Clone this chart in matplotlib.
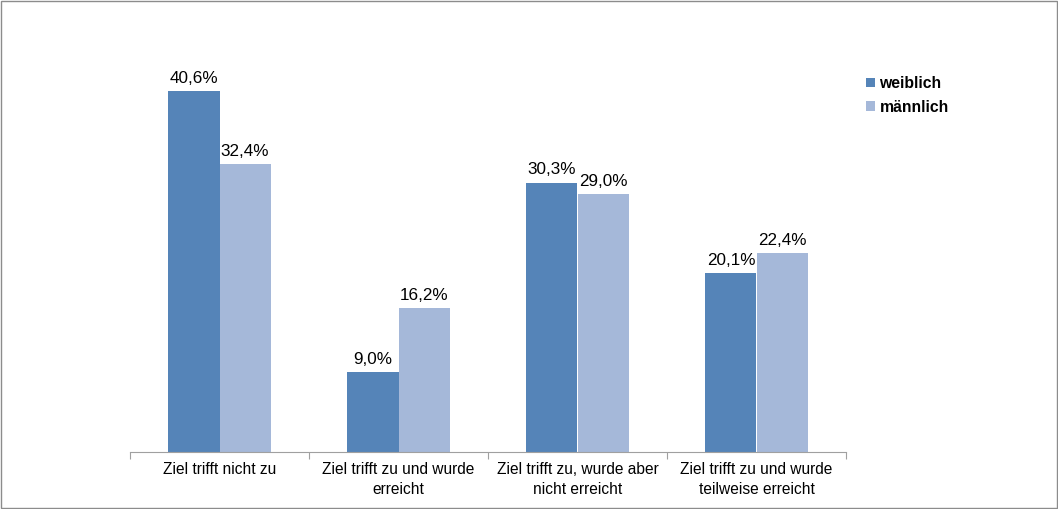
import matplotlib.pyplot as plt
import numpy as np
from matplotlib.patches import Rectangle

plt.rcParams['font.family'] = ['Liberation Sans', 'DejaVu Sans']

categories = ['Ziel trifft nicht zu', 'Ziel trifft zu und wurde\nerreicht',
              'Ziel trifft zu, wurde aber\nnicht erreicht', 'Ziel trifft zu und wurde\nteilweise erreicht']
weiblich = [40.6, 9.0, 30.3, 20.1]
maennlich = [32.4, 16.2, 29.0, 22.4]
series = ['weiblich', 'männlich']
colors = ['#5584B8', '#A5B8D9']

fig = plt.figure(figsize=(10.58, 5.09), dpi=100)
fig.patches.append(Rectangle((0.001, 0.002), 0.998, 0.996, transform=fig.transFigure,
                             fill=False, edgecolor='#8c8c8c', linewidth=1))
ax = fig.add_axes([130/1058, (509-452)/509, 716/1058, 400/509])

x = np.arange(len(categories))
w = 0.285
b1 = ax.bar(x - w/2, weiblich, w, color=colors[0], label=series[0])
b2 = ax.bar(x + w/2, maennlich, w, color=colors[1], label=series[1])
for bars, vals in [(b1, weiblich), (b2, maennlich)]:
    for r, v in zip(bars, vals):
        ax.text(r.get_x() + r.get_width()/2, v + 0.6, f'{v:.1f}%'.replace('.', ','),
                ha='center', va='bottom', fontsize=12.3)

ax.set_xlim(-0.5, len(categories) - 0.5)
ax.set_ylim(0, 45)
ax.set_yticks([])
for s in ['top', 'right', 'left']:
    ax.spines[s].set_visible(False)
ax.spines['bottom'].set_color('#a0a0a0')
ax.set_xticks(np.arange(-0.5, len(categories)), minor=False)
ax.set_xticklabels([])
ax.tick_params(axis='x', length=5, color='#a0a0a0')
for i, c in enumerate(categories):
    ax.text(i, -1.1, c, ha='center', va='top', fontsize=11.2, linespacing=1.45)

fig.legend(handles=[b1, b2], labels=series, loc='upper left', bbox_to_anchor=(852/1058, 1 - 62/509),
           frameon=False, prop={'weight': 'bold', 'size': 11.3}, handlelength=0.55, handleheight=0.55,
           handletextpad=0.3, labelspacing=0.55)

fig.savefig('out.png', dpi=100)
